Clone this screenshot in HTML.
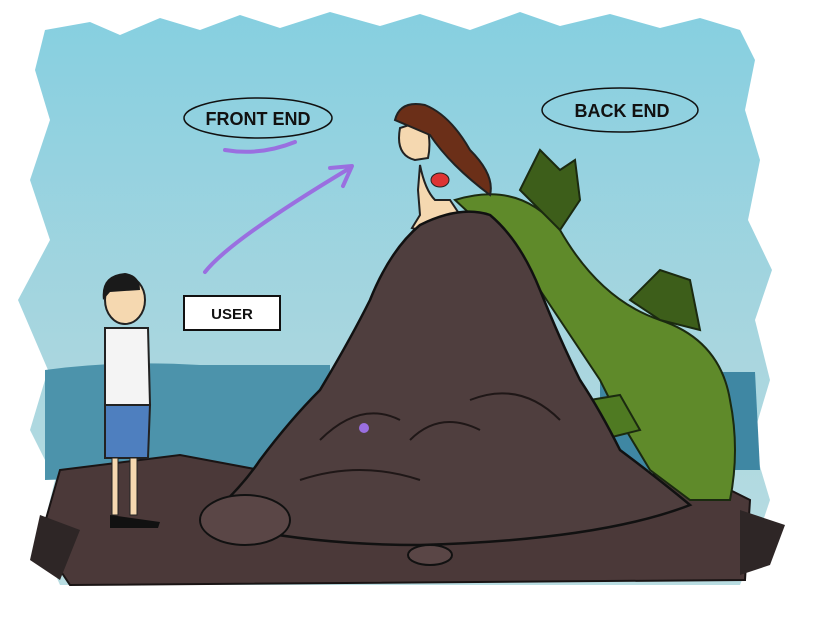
<!DOCTYPE html>
<html><head><meta charset="utf-8"><style>
html,body{margin:0;padding:0;background:#fff;}
svg{display:block}
text{font-family:"Liberation Sans",sans-serif;font-weight:bold;}
</style></head><body>
<svg width="818" height="622" viewBox="0 0 818 622" xmlns="http://www.w3.org/2000/svg">
<defs>
<linearGradient id="sky" x1="0" y1="0" x2="0" y2="1">
<stop offset="0" stop-color="#86cfe0"/><stop offset="0.6" stop-color="#a9d6df"/><stop offset="1" stop-color="#b9dde2"/>
</linearGradient>
</defs>
<rect width="818" height="622" fill="#fff"/>
<path d="M45 30 L90 22 L120 35 L160 18 L200 30 L240 15 L280 28 L330 12 L380 26 L420 14 L470 30 L520 12 L560 26 L610 14 L660 28 L700 18 L740 30 L755 60 L745 110 L760 160 L748 220 L772 270 L755 320 L770 380 L752 440 L770 500 L750 560 L740 585 L60 585 L40 540 L55 480 L30 430 L48 370 L18 300 L50 240 L30 180 L50 120 L35 70 Z" fill="url(#sky)"/>
<path d="M45 370 Q120 360 200 365 L330 365 L330 470 L45 480 Z" fill="#4c93ab"/>
<path d="M600 372 L755 372 L760 470 L600 470 Z" fill="#3f87a3"/>
<path d="M60 470 L180 455 L260 470 L700 475 L750 500 L745 580 L70 585 L40 540 Z" fill="#4b3939" stroke="#1a1414" stroke-width="2"/>
<path d="M40 515 L80 530 L60 580 L30 560 Z" fill="#2e2626"/>
<path d="M740 510 L785 525 L770 565 L740 575 Z" fill="#2e2626"/>
<!-- tail -->
<path d="M455 200 Q520 180 560 230 Q600 300 660 320 Q720 340 730 400 Q740 450 730 500 L690 500 L650 470 L620 420 L600 380 Q560 320 520 260 Z" fill="#5f8a2a" stroke="#1b2a10" stroke-width="2"/>
<path d="M520 190 L540 150 L560 170 L575 160 L580 200 L560 230 Z" fill="#3d5e1a" stroke="#1b2a10" stroke-width="2"/>
<path d="M630 300 L660 270 L690 280 L700 330 L660 320 Z" fill="#3d5e1a" stroke="#1b2a10" stroke-width="2"/>
<path d="M590 400 L620 395 L640 430 L600 440 Z" fill="#4f7a22" stroke="#1b2a10" stroke-width="2"/>
<!-- mermaid -->
<path d="M420 165 Q425 190 435 200 L450 200 L460 215 L440 220 L425 232 L412 228 L420 215 L418 190 Z" fill="#f5d8b0" stroke="#222" stroke-width="2"/>
<path d="M400 128 Q395 155 415 160 L428 158 Q432 140 425 120 Z" fill="#f5d8b0" stroke="#222" stroke-width="2"/>
<path d="M395 120 Q400 100 425 105 Q450 115 470 150 Q495 175 490 195 Q470 180 455 165 Q440 150 430 135 Z" fill="#6b2f18" stroke="#222" stroke-width="2"/>
<ellipse cx="440" cy="180" rx="9" ry="7" fill="#d33" stroke="#222"/>
<!-- rock -->
<path d="M205 520 Q240 490 260 460 Q290 420 320 390 Q350 340 370 300 Q390 250 420 225 Q460 205 490 215 Q520 240 540 290 Q560 340 580 380 Q600 410 620 450 Q660 480 690 505 Q600 540 420 545 Q300 545 205 520 Z" fill="#4f3e3e" stroke="#111" stroke-width="2.5"/>
<ellipse cx="245" cy="520" rx="45" ry="25" fill="#5a4646" stroke="#111" stroke-width="2"/>
<ellipse cx="430" cy="555" rx="22" ry="10" fill="#5a4646" stroke="#111" stroke-width="2"/>
<path d="M320 440 Q360 400 400 420 M410 440 Q440 410 480 430 M300 480 Q360 460 420 480 M470 400 Q520 380 560 420" fill="none" stroke="#1f1717" stroke-width="2"/>
<circle cx="364" cy="428" r="5" fill="#9a6fe0"/>
<!-- person -->
<ellipse cx="125" cy="300" rx="20" ry="24" fill="#f5d8b0" stroke="#222" stroke-width="2"/>
<path d="M103 300 Q100 275 125 273 Q140 275 140 290 L110 292 Z" fill="#1a1a1a"/>
<path d="M105 328 L148 328 L150 405 L105 405 Z" fill="#f4f4f4" stroke="#222" stroke-width="2"/>
<path d="M105 405 L150 405 L148 458 L105 458 Z" fill="#4e7fbf" stroke="#222" stroke-width="2"/>
<path d="M112 458 L118 458 L118 515 L112 515 Z M130 458 L137 458 L137 515 L130 515 Z" fill="#f5d8b0" stroke="#222"/>
<path d="M110 515 L160 522 L158 528 L110 528 Z" fill="#111"/>
<!-- labels -->
<ellipse cx="258" cy="118" rx="74" ry="20" fill="none" stroke="#111" stroke-width="1.5"/>
<text x="258" y="125" text-anchor="middle" font-size="18" fill="#111">FRONT END</text>
<path d="M225 150 Q260 156 295 142" fill="none" stroke="#9a6fe0" stroke-width="4" stroke-linecap="round"/>
<ellipse cx="620" cy="110" rx="78" ry="22" fill="none" stroke="#111" stroke-width="1.5"/>
<text x="622" y="117" text-anchor="middle" font-size="18" fill="#111">BACK END</text>
<rect x="184" y="296" width="96" height="34" fill="#fff" stroke="#111" stroke-width="2"/>
<text x="232" y="319" text-anchor="middle" font-size="15" fill="#111">USER</text>
<path d="M205 272 Q230 240 350 168" fill="none" stroke="#9a6fe0" stroke-width="4" stroke-linecap="round"/>
<path d="M330 168 L352 166 L343 186" fill="none" stroke="#9a6fe0" stroke-width="4" stroke-linecap="round" stroke-linejoin="round"/>
</svg>
</body></html>
